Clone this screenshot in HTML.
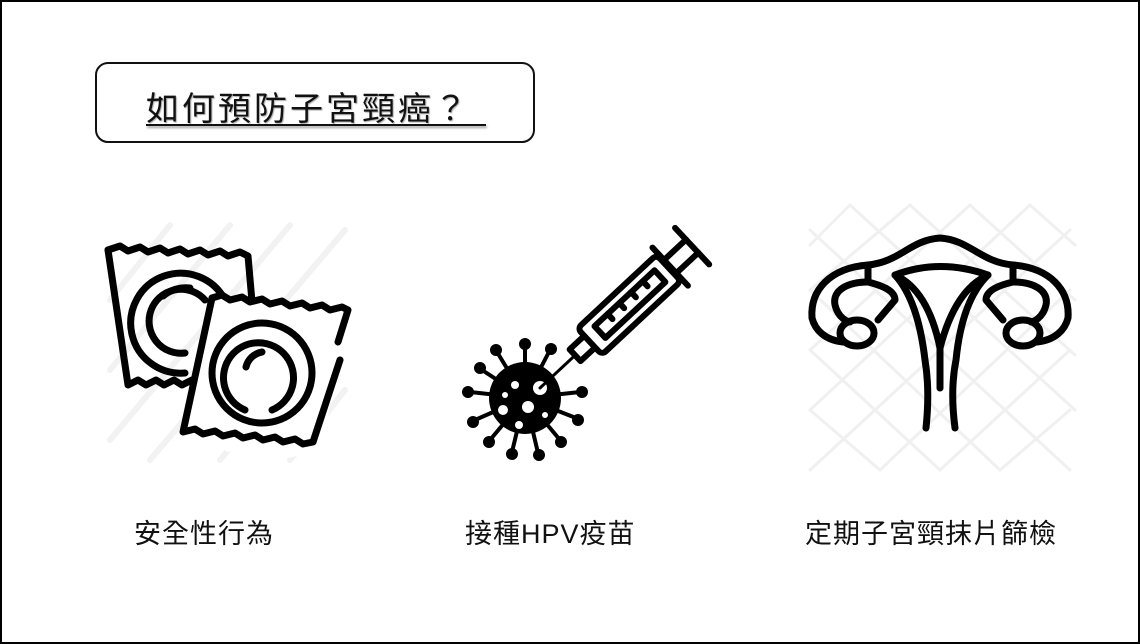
<!DOCTYPE html>
<html><head><meta charset="utf-8"><style>
html,body{margin:0;padding:0;background:#fff;}
.pg{position:relative;width:1140px;height:644px;box-sizing:border-box;border:2px solid #000;overflow:hidden;}
.tb{position:absolute;left:93px;top:60px;width:440px;height:81px;box-sizing:border-box;border:2px solid #111;border-radius:13px;}
.tt{position:absolute;left:144px;top:80px;font:33px "Liberation Sans","Noto Sans CJK TC",sans-serif;letter-spacing:3px;color:#111;text-shadow:1px 1px 1px #aaa;}
.ul{position:absolute;left:144px;top:122px;width:340px;height:2px;background:#111;box-shadow:1px 2px 2px #999;}
.lb{position:absolute;top:510px;font:27px "Liberation Sans","Noto Sans CJK TC",sans-serif;color:#111;letter-spacing:1px;}
</style></head><body><div class="pg">
<div class="tb"></div>
<div class="tt">如何預防子宮頸癌？</div>
<div class="ul"></div>
<div class="lb" style="left:132px">安全性行為</div>
<div class="lb" style="left:463px">接種HPV疫苗</div>
<div class="lb" style="left:803px">定期子宮頸抹片篩檢</div>
<svg width="1140" height="644" style="position:absolute;left:-2px;top:-2px" fill="none" stroke="#000" stroke-linecap="round" stroke-linejoin="round">
<g stroke="#f2f2f2" stroke-width="6">
<line x1="110" y1="300" x2="170" y2="225"/><line x1="110" y1="370" x2="230" y2="225"/><line x1="110" y1="440" x2="290" y2="225"/><line x1="150" y1="460" x2="345" y2="230"/><line x1="220" y1="460" x2="345" y2="310"/><line x1="290" y1="460" x2="345" y2="390"/>
</g>
<g stroke-width="7">
<path d="M108,250 l12,-4 l8,5 l12,-4 l8,5 l12,-4 l8,5 l12,-4 l8,5 l12,-4 l8,5 l12,-4 l8,5 l12,-4 l8,4 L258,370"/>
<path d="M108,250 L128,385 l10,-5 l8,5 l10,-5 l8,5 l10,-5 l8,5 l10,-5 l8,5 l8,-4"/>
<path d="M225,300 A50,50 0 1 0 185,373"/>
<path d="M205,300 A32,32 0 1 0 185,353" />
<path d="M163,296 A36,36 0 0 1 190,288"/>
</g>
<g stroke-width="7">
<path d="M212,298 l10,-3 l8,5 l12,-3 l8,5 l12,-3 l8,5 l12,-3 l8,5 l12,-3 l8,5 l12,-3 l8,5 l12,-3 l6,3 L338,342 L340,360 L318,462 l-10,-2 l-8,-5 l-12,3 l-8,-5 l-12,3 l-8,-5 l-12,3 l-8,-5 l-12,3 l-8,-5 l-12,3 l-8,-5 l-12,3 L183,432 Z" fill="#fff" stroke="none"/>
<path d="M212,298 l10,-3 l8,5 l12,-3 l8,5 l12,-3 l8,5 l12,-3 l8,5 l12,-3 l8,5 l12,-3 l8,5 l12,-3 l6,3 L338,342"/>
<path d="M212,298 L183,432 l12,-3 l8,5 l12,-3 l8,5 l12,-3 l8,5 l12,-3 l8,5 l12,-3 l8,5 l12,-3 l8,5 l10,-2 L340,360"/>
<circle cx="262" cy="373" r="50"/>
<path d="M245,410 A35,35 0 1 1 272,410"/>
<path d="M246,367 A20,20 0 0 1 262,352"/>
</g>
<g fill="#000" stroke="none">
<circle cx="525" cy="398" r="36"/>
<g stroke="#000" stroke-width="4">
<line x1="525" y1="398" x2="525" y2="345"/><line x1="525" y1="398" x2="497" y2="352"/><line x1="525" y1="398" x2="482" y2="370"/><line x1="525" y1="398" x2="470" y2="392"/><line x1="525" y1="398" x2="475" y2="420"/><line x1="525" y1="398" x2="490" y2="440"/><line x1="525" y1="398" x2="512" y2="452"/><line x1="525" y1="398" x2="538" y2="453"/><line x1="525" y1="398" x2="560" y2="440"/><line x1="525" y1="398" x2="576" y2="418"/><line x1="525" y1="398" x2="580" y2="392"/><line x1="525" y1="398" x2="550" y2="350"/>
</g>
<circle cx="525" cy="344" r="6"/><circle cx="496" cy="350" r="6"/><circle cx="480" cy="368" r="6"/><circle cx="468" cy="392" r="6"/><circle cx="473" cy="422" r="6"/><circle cx="489" cy="442" r="6"/><circle cx="512" cy="454" r="6"/><circle cx="539" cy="455" r="6"/><circle cx="561" cy="442" r="6"/><circle cx="578" cy="420" r="6"/><circle cx="582" cy="392" r="6"/><circle cx="551" cy="349" r="6"/>
<g fill="#fff"><circle cx="515" cy="385" r="4"/><circle cx="503" cy="410" r="5"/><circle cx="528" cy="407" r="6"/><circle cx="540" cy="388" r="7"/><circle cx="519" cy="425" r="4"/><circle cx="545" cy="415" r="3"/><circle cx="505" cy="395" r="3"/></g>
</g>
<g transform="translate(540,388) rotate(-43)" stroke-width="6">
<line x1="0" y1="0" x2="55" y2="0" stroke-width="3"/>
<rect x="48" y="-8" width="20" height="16" fill="#fff"/>
<rect x="68" y="-18" width="108" height="36" rx="5" fill="#fff"/>
<rect x="82" y="-8" width="82" height="16"/>
<line x1="100" y1="-8" x2="100" y2="-1"/><line x1="116" y1="-8" x2="116" y2="-1"/><line x1="132" y1="-8" x2="132" y2="-1"/><line x1="148" y1="-8" x2="148" y2="-1"/>
<line x1="178" y1="-26" x2="178" y2="26"/>
<line x1="178" y1="-9" x2="208" y2="-9"/><line x1="178" y1="9" x2="208" y2="9"/>
<line x1="208" y1="-25" x2="208" y2="25"/>
</g>
<g stroke="#f0f0f0" stroke-width="3">
<path d="M810,230 L1070,470 M810,290 L1000,470 M810,350 L940,470 M810,410 L880,470 M850,205 L1075,410 M910,205 L1075,355 M970,205 L1075,300 M1030,205 L1075,245 M1070,230 L810,470 M1070,290 L880,470 M1070,350 L940,470 M1070,410 L1000,470 M1030,205 L810,410 M970,205 L810,350 M910,205 L810,290 M850,205 L810,245"/>
</g>
<g stroke-width="7">
<path d="M868,265 C900,262 910,240 940,238 C970,240 980,262 1013,265"/>
<path d="M895,275 Q940,258 988,275 Q955,290 940,348 Q928,290 895,275 Z" fill="#fff"/>
<path d="M895,275 Q918,300 925,360 Q930,390 926,428"/>
<path d="M988,275 Q962,300 956,360 Q950,390 955,428"/>
<path d="M940,348 L940,388"/>
<path d="M868,265 C830,268 810,290 812,318 C815,330 825,340 843,342"/>
<path d="M868,265 L868,282 C848,282 832,290 835,305 C838,318 848,322 850,322"/>
<path d="M868,282 C880,285 895,290 895,300 L878,320"/>
<ellipse cx="857" cy="333" rx="17" ry="13"/>
<path d="M1013,265 C1050,268 1070,290 1068,318 C1065,330 1055,340 1037,342"/>
<path d="M1013,265 L1013,282 C1033,282 1049,290 1046,305 C1043,318 1033,322 1031,322"/>
<path d="M1013,282 C1000,285 986,290 986,300 L1003,320"/>
<ellipse cx="1023" cy="333" rx="17" ry="13"/>
</g>
</svg>
</div></body></html>
